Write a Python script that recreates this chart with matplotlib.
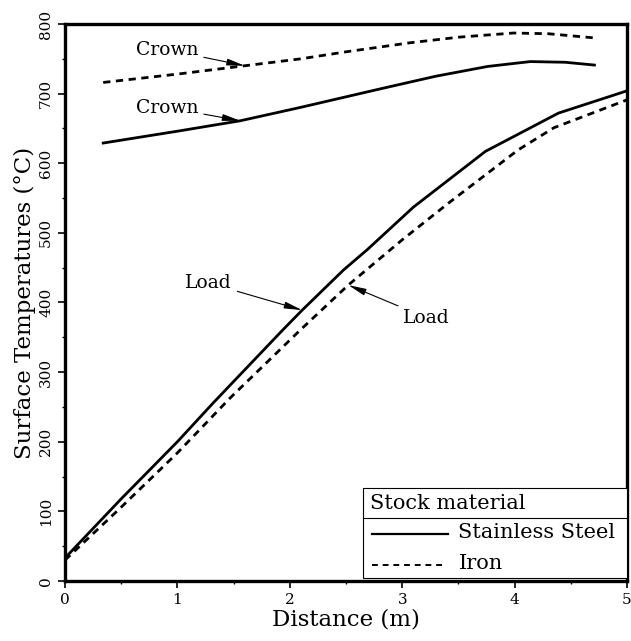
import matplotlib.pyplot as plt
from matplotlib.patches import Rectangle
from matplotlib.lines import Line2D
from matplotlib.ticker import MultipleLocator

plt.rcParams['font.family'] = ['DejaVu Serif']

# Crown curves
crown_ss_x = [0.34, 1.0, 1.56, 2.09, 2.81, 3.3, 3.76, 4.14, 4.45, 4.71]
crown_ss_y = [629, 646, 661, 680, 707, 725, 739, 746, 745, 741]
crown_fe_x = [0.34, 1.0, 1.6, 2.1, 2.5, 3.07, 3.5, 3.99, 4.3, 4.71]
crown_fe_y = [716, 728, 740, 750, 760, 773, 781, 787, 786, 780]

# Load curves
load_ss_x = [0.0, 0.5, 1.0, 1.32, 1.94, 2.11, 2.48, 2.69, 3.1, 3.74, 4.39, 5.0]
load_ss_y = [33, 118, 200, 256, 361, 389, 447, 476, 537, 617, 672, 704]
load_fe_x = [0.0, 0.5, 1.0, 1.47, 2.09, 2.52, 3.0, 3.43, 4.03, 4.35, 5.0]
load_fe_y = [30, 106, 184, 263, 360, 425, 490, 545, 619, 651, 691]

dash = (0, (2.6, 2.0))

fig = plt.figure(figsize=(6.31, 6.41), dpi=100)
ax = fig.add_axes([0.103, 0.0936, 0.8907, 0.869])

ax.plot(crown_ss_x, crown_ss_y, color='black', lw=2.0)
ax.plot(crown_fe_x, crown_fe_y, color='black', lw=2.0, linestyle=dash)
ax.plot(load_ss_x, load_ss_y, color='black', lw=2.0)
ax.plot(load_fe_x, load_fe_y, color='black', lw=2.0, linestyle=dash)

ax.set_xlim(0, 5)
ax.set_ylim(0, 800)
ax.set_xticks([0, 1, 2, 3, 4, 5])
ax.set_yticks([0, 100, 200, 300, 400, 500, 600, 700, 800])
ax.xaxis.set_minor_locator(MultipleLocator(0.5))
ax.yaxis.set_minor_locator(MultipleLocator(50))
ax.tick_params(which='major', direction='out', length=5, width=1.2, labelsize=11)
ax.tick_params(which='minor', direction='out', length=2.5, width=1.0)
for lab in ax.get_yticklabels():
    lab.set_rotation(90)
    lab.set_va('center')
for s in ax.spines.values():
    s.set_linewidth(2.4)

ax.set_xlabel('Distance (m)', fontsize=16.5, labelpad=1)
ax.set_ylabel('Surface Temperatures (°C)', fontsize=16.5, labelpad=2)

arrow = dict(arrowstyle='-|>,head_length=0.8,head_width=0.15', color='black', lw=0.8,
             shrinkA=2, shrinkB=0)
ax.annotate('Crown', xy=(1.6, 740), xytext=(0.63, 763), fontsize=13.5,
            ha='left', va='center', arrowprops=arrow)
ax.annotate('Crown', xy=(1.56, 661), xytext=(0.63, 680), fontsize=13.5,
            ha='left', va='center', arrowprops=arrow)
ax.annotate('Load', xy=(2.11, 389), xytext=(1.07, 428), fontsize=13.5,
            ha='left', va='center', arrowprops=arrow)
ax.annotate('Load', xy=(2.52, 425), xytext=(3.01, 378), fontsize=13.5,
            ha='left', va='center', arrowprops=arrow)

# legend box
x0, x1 = 0.530, 1.0
y0, y1, ysep = 0.005, 0.167, 0.113
ax.add_patch(Rectangle((x0, y0), x1 - x0, y1 - y0, transform=ax.transAxes,
                       facecolor='white', edgecolor='black', lw=0.8, zorder=5))
ax.add_line(Line2D([x0, x1], [ysep, ysep], transform=ax.transAxes,
                   color='black', lw=0.8, zorder=6))
ax.text(x0 + 0.012, 0.140, 'Stock material', transform=ax.transAxes,
        fontsize=15, va='center', ha='left', zorder=6)
ax.add_line(Line2D([0.546, 0.681], [0.085, 0.085], transform=ax.transAxes,
                   color='black', lw=1.6, zorder=6))
ax.text(0.700, 0.087, 'Stainless Steel', transform=ax.transAxes,
        fontsize=15, va='center', ha='left', zorder=6)
ax.add_line(Line2D([0.546, 0.670], [0.029, 0.029], transform=ax.transAxes,
                   color='black', lw=1.4, linestyle=(0, (3, 2.5)), zorder=6))
ax.text(0.700, 0.031, 'Iron', transform=ax.transAxes,
        fontsize=15, va='center', ha='left', zorder=6)

fig.savefig('out.png', dpi=100)
